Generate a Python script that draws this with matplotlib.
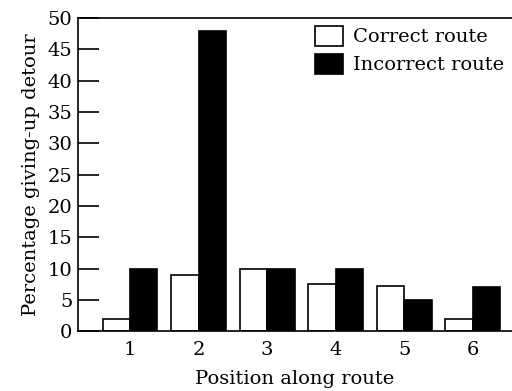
import numpy as np
import matplotlib
matplotlib.use("Agg")
from matplotlib import pyplot as plt
from matplotlib.patches import Patch

positions = [1, 2, 3, 4, 5, 6]
correct = [2, 9, 10, 7.5, 7.2, 2]
incorrect = [10, 48, 10, 10, 5, 7]
y_ticks = [0, 5, 10, 15, 20, 25, 30, 35, 40, 45, 50]

plt.rcParams['font.family'] = ['DejaVu Serif']
plt.rcParams['font.size'] = 14

fig = plt.figure(figsize=(5.12, 3.91), dpi=100)
ax = fig.add_axes([0.152, 0.153, 0.848, 0.801])

x = np.array(positions)
w = 0.4
ax.bar(x - w / 2, correct, width=w, color='white', edgecolor='black', lw=1.2)
ax.bar(x + w / 2, incorrect, width=w, color='black', edgecolor='black', lw=1.2)

ax.set_xlim(0.24, 6.57)
ax.set_ylim(0, 50)
ax.set_xticks(positions)
ax.set_yticks(y_ticks)
ax.tick_params(axis='y', direction='in', length=15, width=1.2, pad=4)
ax.tick_params(axis='x', length=0, pad=7)
ax.spines['right'].set_visible(False)
for s in ['left', 'top', 'bottom']:
    ax.spines[s].set_linewidth(1.2)

ax.set_xlabel('Position along route', labelpad=8)
ax.set_ylabel('Percentage giving-up detour', labelpad=5)

handles = [Patch(facecolor='white', edgecolor='black', lw=1.2, label='Correct route'),
           Patch(facecolor='black', edgecolor='black', lw=1.2, label='Incorrect route')]
ax.legend(handles=handles, loc='upper right', frameon=False, handlelength=1.44,
          handleheight=1.19, handletextpad=0.5, labelspacing=0.4,
          borderpad=0.3, borderaxespad=0.1, bbox_to_anchor=(1.0, 1.0))

fig.savefig('out.png', dpi=100)
